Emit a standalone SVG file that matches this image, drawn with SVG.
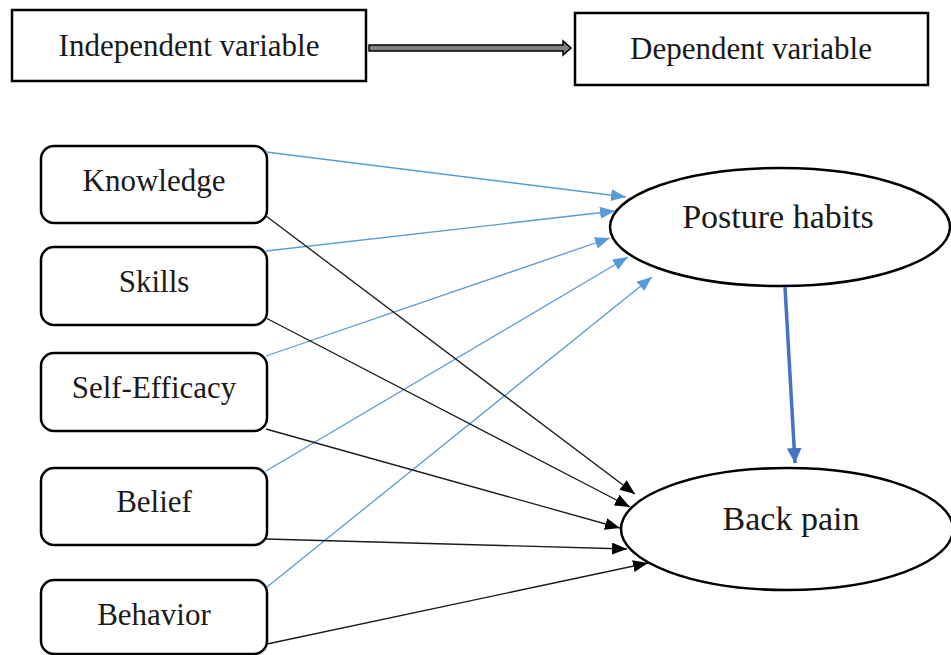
<svg xmlns="http://www.w3.org/2000/svg" width="951" height="655" viewBox="0 0 951 655">
<defs>
<style>
.box{fill:#fff;stroke:#000;stroke-width:2.5}
.lbl{font-family:"Liberation Serif","Times New Roman",serif;fill:#1a1a1a;text-anchor:middle}
.s{font-size:31px}
.b{font-size:34px}
.blue{stroke:#5B9BD5;stroke-width:1.3;fill:none;marker-end:url(#ab)}
.blk{stroke:#1a1a1a;stroke-width:1.3;fill:none;marker-end:url(#ak)}
</style>
<marker id="ab" viewBox="0 0 15 12" refX="15" refY="6" markerWidth="15" markerHeight="12" markerUnits="userSpaceOnUse" orient="auto"><path d="M0,0 L15,6 L0,12 z" fill="#5B9BD5"/></marker>
<marker id="ak" viewBox="0 0 15 12" refX="15" refY="6" markerWidth="15" markerHeight="12" markerUnits="userSpaceOnUse" orient="auto"><path d="M0,0 L15,6 L0,12 z" fill="#000"/></marker>
<marker id="am" viewBox="0 0 15 15" refX="15" refY="7.5" markerWidth="15" markerHeight="15" markerUnits="userSpaceOnUse" orient="auto"><path d="M0,0 L15,7.5 L0,15 z" fill="#4472C4"/></marker>
</defs>
<rect width="951" height="655" fill="#fff"/>

<g id="independent">
<rect class="box" x="12" y="10" width="354" height="71" stroke-width="3"/>
<text class="lbl s" x="189" y="56">Independent variable</text>
</g>
<g id="dependent">
<rect class="box" x="575" y="13" width="353" height="72" stroke-width="3"/>
<text class="lbl s" x="751" y="59">Dependent variable</text>
</g>

<g id="knowledge">
<rect class="box" x="41" y="146" width="226" height="77" rx="13"/>
<text class="lbl s" x="154" y="191">Knowledge</text>
</g>
<g id="skills">
<rect class="box" x="41" y="247" width="226" height="78" rx="13"/>
<text class="lbl s" x="154" y="292">Skills</text>
</g>
<g id="self-efficacy">
<rect class="box" x="41" y="353" width="226" height="78" rx="13"/>
<text class="lbl s" x="154" y="398">Self-Efficacy</text>
</g>
<g id="belief">
<rect class="box" x="41" y="468" width="226" height="77" rx="13"/>
<text class="lbl s" x="154" y="512">Belief</text>
</g>
<g id="behavior">
<rect class="box" x="41" y="580" width="226" height="74" rx="13"/>
<text class="lbl s" x="154" y="625">Behavior</text>
</g>

<g id="posture">
<ellipse class="box" cx="780" cy="227" rx="170" ry="59"/>
<text class="lbl b" x="778" y="228">Posture habits</text>
</g>
<g id="backpain">
<ellipse class="box" cx="787" cy="529" rx="166" ry="61"/>
<text class="lbl b" x="791" y="530">Back pain</text>
</g>

<g id="connectors">
<path d="M369,45 H563 V41 L571,48 L563,55 V51 H369 Z" fill="#808080" stroke="#000" stroke-width="1.5" stroke-linejoin="miter"/>
<line class="blue" x1="266" y1="152" x2="626" y2="197"/>
<line class="blue" x1="266" y1="251" x2="615" y2="211"/>
<line class="blue" x1="266" y1="356" x2="610" y2="238"/>
<line class="blue" x1="266" y1="471" x2="628" y2="257"/>
<line class="blue" x1="267" y1="587" x2="652" y2="277"/>
<line class="blk" x1="266" y1="216" x2="635" y2="494"/>
<line class="blk" x1="266" y1="318" x2="630" y2="507"/>
<line class="blk" x1="266" y1="429" x2="620" y2="528"/>
<line class="blk" x1="266" y1="539" x2="627" y2="549"/>
<line class="blk" x1="267" y1="644" x2="648" y2="563"/>
<line x1="785" y1="287" x2="795" y2="463" stroke="#4472C4" stroke-width="3.5" marker-end="url(#am)"/>
</g>
</svg>
